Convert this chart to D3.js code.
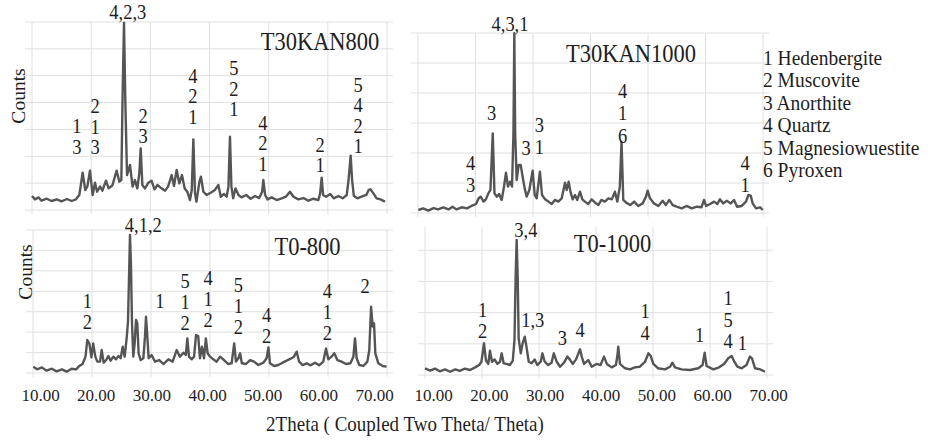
<!DOCTYPE html>
<html><head><meta charset="utf-8">
<script src="https://cdn.jsdelivr.net/npm/d3@7"></script>
<style>
html,body{margin:0;padding:0;background:#fff;}
svg{display:block;}
</style></head><body>
<svg id="chart" width="939" height="441"></svg>
<script>
// ---------- data ----------
const thetaTicks = [10, 20, 30, 40, 50, 60, 70];
const sampleNames = ["T30KAN800", "T30KAN1000", "T0-800", "T0-1000"];
const legendItems = ["1 Hedenbergite", "2 Muscovite", "3 Anorthite", "4 Quartz", "5 Magnesiowuestite", "6 Pyroxen"];
const yLabel = "Counts";
const xLabel = "2Theta ( Coupled Two Theta/ Theta)";

// [2theta, counts]
const t30kan800 = [[10.0,104],[10.5,79],[11.1,94],[11.6,69],[12.5,84],[13.3,67],[14.2,79],[15.0,64],[15.9,82],[16.7,67],[17.4,79],[18.0,112],[18.56,278],[19.0,149],[19.35,174],[19.8,293],[20.25,112],[20.65,203],[21.0,136],[21.5,174],[21.9,144],[22.5,218],[22.96,161],[23.6,184],[24.3,293],[24.76,211],[25.1,223],[25.3,819],[25.55,1395],[25.77,819],[26.06,260],[26.56,335],[27.0,174],[27.4,223],[27.8,161],[28.14,273],[28.37,459],[28.65,186],[29.1,161],[29.66,203],[30.2,218],[30.7,154],[31.2,186],[31.9,161],[32.5,144],[33.0,174],[33.6,260],[34.0,179],[34.45,298],[34.9,198],[35.35,260],[35.8,161],[36.25,136],[36.7,74],[37.0,149],[37.27,526],[37.55,124],[37.8,62],[38.3,211],[38.55,248],[38.96,136],[39.5,112],[40.2,129],[40.9,149],[41.5,186],[41.9,99],[42.45,119],[42.9,99],[43.2,174],[43.46,546],[43.7,174],[44.0,87],[44.4,161],[44.9,112],[45.4,94],[46.2,112],[46.96,84],[47.7,104],[48.4,89],[48.9,136],[49.1,223],[49.4,112],[49.8,79],[50.5,94],[51.35,74],[52.2,87],[52.9,99],[53.6,136],[54.2,99],[55.0,79],[55.9,89],[56.7,69],[57.55,84],[58.4,74],[58.7,124],[58.96,241],[59.2,112],[59.7,99],[60.4,119],[61.0,87],[61.8,104],[62.5,87],[63.2,112],[63.5,223],[63.86,405],[64.1,223],[64.4,104],[65.0,87],[65.7,99],[66.5,112],[66.9,149],[67.2,154],[67.7,124],[68.25,87],[68.9,79],[69.66,62]];

const t30kan1000 = [[10.06,20],[10.9,31],[11.8,16],[12.7,33],[13.5,24],[14.4,38],[15.3,24],[16.0,42],[16.7,24],[17.6,38],[18.5,31],[19.3,47],[20.1,60],[20.55,98],[20.9,109],[21.4,76],[21.8,91],[22.3,136],[22.6,153],[23.0,531],[23.3,131],[23.7,109],[24.1,127],[24.55,87],[24.96,176],[25.3,269],[25.65,176],[26.0,209],[26.35,176],[26.6,531],[26.75,1198],[26.9,531],[27.16,220],[27.5,320],[27.86,320],[28.2,242],[28.55,164],[28.9,109],[29.36,153],[29.94,282],[30.3,120],[30.64,98],[31.2,276],[31.57,120],[32.1,91],[32.67,76],[33.25,60],[33.8,87],[34.4,76],[34.99,98],[35.3,153],[35.57,202],[35.86,153],[36.2,209],[36.55,136],[36.9,91],[37.3,120],[37.7,87],[38.17,142],[38.58,91],[39.04,76],[39.6,60],[40.2,91],[40.8,69],[41.36,53],[41.9,87],[42.5,76],[43.1,98],[43.7,91],[44.25,142],[44.67,76],[45.1,176],[45.4,476],[45.7,87],[46.2,69],[46.9,53],[47.6,76],[48.3,47],[49.07,64],[49.65,109],[49.94,149],[50.35,98],[51.04,64],[51.8,47],[52.55,82],[53.1,53],[53.7,87],[54.3,53],[54.99,42],[55.86,31],[56.7,47],[57.6,31],[58.5,42],[59.3,38],[59.74,87],[60.1,47],[60.8,60],[61.5,76],[62.06,60],[62.5,91],[63.1,64],[63.7,82],[64.4,64],[64.96,87],[65.5,42],[66.3,47],[67.04,76],[67.45,120],[67.86,116],[68.2,64],[68.8,31],[69.5,38],[69.94,20]];

const t0800 = [[10.06,62],[10.7,36],[11.5,55],[12.3,23],[13.2,42],[14.0,16],[14.9,36],[15.7,13],[16.55,42],[17.3,36],[17.85,69],[18.4,88],[18.9,160],[19.2,323],[19.55,290],[19.9,153],[20.2,290],[20.56,160],[20.9,111],[21.36,111],[21.64,225],[21.98,101],[22.4,127],[22.77,166],[23.16,121],[23.6,160],[24.07,134],[24.5,166],[24.86,144],[25.2,258],[25.54,160],[25.9,356],[26.1,503],[26.33,1074],[26.44,1351],[26.6,1074],[26.78,486],[27.0,160],[27.23,290],[27.46,519],[27.68,486],[27.9,193],[28.25,127],[28.7,144],[28.98,356],[29.15,551],[29.38,356],[29.6,144],[30.1,176],[30.68,111],[31.4,127],[32.1,88],[32.94,134],[33.67,111],[34.35,225],[34.9,160],[35.5,199],[35.9,176],[36.16,339],[36.44,160],[36.9,134],[37.3,160],[37.63,372],[38.0,362],[38.3,144],[38.64,258],[38.98,144],[39.3,339],[39.6,193],[40.0,160],[40.56,134],[41.13,111],[41.7,160],[42.37,127],[43.1,88],[43.67,95],[44.1,290],[44.4,111],[44.8,144],[45.1,193],[45.4,95],[46.1,88],[46.8,127],[47.46,111],[48.2,78],[49.04,101],[49.6,144],[49.9,251],[50.17,95],[50.85,69],[51.58,78],[52.3,101],[53.0,121],[53.67,140],[54.24,160],[54.7,209],[55.1,111],[55.7,78],[56.38,95],[57.06,75],[57.8,101],[58.5,75],[59.2,111],[59.66,241],[60.06,134],[60.6,160],[61.07,193],[61.58,127],[62.3,111],[63.05,88],[63.8,95],[64.3,160],[64.58,339],[64.86,144],[65.3,78],[65.99,69],[66.67,111],[67.0,225],[67.3,649],[67.57,454],[67.8,486],[68.02,193],[68.53,95],[69.27,69],[69.94,62]];

const t01000 = [[10.0,43],[10.9,28],[11.75,41],[12.6,24],[13.5,36],[14.4,21],[15.3,36],[16.1,26],[17.0,41],[17.9,32],[18.8,49],[19.5,64],[19.9,85],[20.35,203],[20.7,92],[21.1,71],[21.4,156],[21.75,85],[22.2,100],[22.7,71],[23.16,85],[23.45,139],[23.8,75],[24.3,71],[24.9,64],[25.4,92],[25.7,224],[25.9,630],[26.08,865],[26.26,630],[26.43,235],[26.8,139],[27.13,203],[27.5,246],[27.8,182],[28.2,85],[28.7,75],[29.24,100],[29.7,64],[30.3,85],[30.6,139],[31.0,85],[31.6,64],[32.2,79],[32.6,139],[33.1,85],[33.7,53],[34.4,79],[34.97,118],[35.4,100],[35.9,71],[36.5,100],[37.2,165],[37.5,118],[37.9,71],[38.65,96],[39.24,53],[40.1,71],[40.8,64],[41.4,118],[41.9,71],[42.75,49],[43.5,64],[43.8,139],[43.9,182],[44.2,71],[45.1,43],[45.96,36],[46.8,49],[47.7,53],[48.6,85],[49.2,139],[49.6,122],[50.06,71],[50.9,43],[52.1,36],[53.0,53],[53.4,79],[53.86,49],[55.0,36],[56.5,32],[57.95,43],[58.7,64],[59.06,143],[59.4,58],[60.6,36],[61.6,49],[62.46,71],[63.2,107],[63.8,122],[64.27,85],[64.8,53],[65.56,43],[66.4,64],[67.0,118],[67.37,107],[67.9,43],[68.8,36],[69.65,21]];

// peak annotations: phase numbers (top to bottom), 2theta, counts level of first line
const peaks800K = [
  {lines:["4,2,3"], theta:26.2, level:1420},
  {lines:["1","3"], theta:17.6, level:573},
  {lines:["2","1","3"], theta:20.65, level:722},
  {lines:["2","3"], theta:28.8, level:648},
  {lines:["4","2","1"], theta:37.2, level:946},
  {lines:["5","2","1"], theta:44.1, level:1005},
  {lines:["4","2","1"], theta:49.0, level:596},
  {lines:["2","1"], theta:58.7, level:432},
  {lines:["5","4","2","1"], theta:65.1, level:879}
];
const peaks1000K = [
  {lines:["4,3,1"], theta:26.0, level:1213},
  {lines:["4","3"], theta:19.17, level:287},
  {lines:["3"], theta:22.8, level:620},
  {lines:["3","1"], theta:31.1, level:542},
  {lines:["3"], theta:28.8, level:387},
  {lines:["4","1","6"], theta:45.6, level:767},
  {lines:["4","1"], theta:66.9, level:287}
];
const peaks800 = [
  {lines:["4,1,2"], theta:28.7, level:1383},
  {lines:["1","2"], theta:19.2, level:633},
  {lines:["1"], theta:31.5, level:633},
  {lines:["5","1","2"], theta:35.8, level:829},
  {lines:["4","1","2"], theta:39.7, level:862},
  {lines:["5","1","2"], theta:44.8, level:796},
  {lines:["4","2"], theta:49.6, level:502},
  {lines:["4","1","2"], theta:59.9, level:731},
  {lines:["2"], theta:66.3, level:780}
];
const peaks1000 = [
  {lines:["3,4"], theta:27.7, level:886},
  {lines:["1","2"], theta:20.1, level:374},
  {lines:["1,3"], theta:28.9, level:310},
  {lines:["3"], theta:34.1, level:192},
  {lines:["4"], theta:37.2, level:246},
  {lines:["1","4"], theta:48.6, level:363},
  {lines:["1"], theta:58.2, level:213},
  {lines:["1","5","4"], theta:63.2, level:449},
  {lines:["1"], theta:65.7, level:160}
];

// ---------- layout ----------
const FONT = "'Liberation Serif'";
const svg = d3.select("#chart");
const STRETCH = 1.1;
function stext(g, x, y, lines, size, anchor, lh) {
  const arr = Array.isArray(lines) ? lines : [lines];
  const t = g.append("text")
    .attr("transform", `translate(${x},${y}) scale(1,${STRETCH})`)
    .attr("text-anchor", anchor || "middle")
    .attr("font-family", FONT)
    .attr("font-size", size)
    .attr("fill", "#1e1e1e");
  arr.forEach((s, i) => {
    t.append("tspan").attr("x", 0).attr("dy", i === 0 ? 0 : (lh || 0) / STRETCH).text(s);
  });
  return t;
}

const panels = [
  {data:t30kan800, peaks:peaks800K, name:sampleNames[0], xr:[32,387], yr:[210,22], ymax:1400, gridTop:1400, vTop:22, title:[320,50], lh:20.5},
  {data:t30kan1000, peaks:peaks1000K, name:sampleNames[1], xr:[418,763], yr:[213,33], ymax:1200, gridTop:1200, vTop:33, title:[631,61.5], lh:22.5},
  {data:t0800, peaks:peaks800, name:sampleNames[2], xr:[33,387], yr:[373,230], ymax:1400, gridTop:1400, vTop:230, title:[307.5,255], lh:21},
  {data:t01000, peaks:peaks1000, name:sampleNames[3], xr:[425,767], yr:[375,219], ymax:1000, gridTop:800, vTop:227, title:[612.5,251.5], lh:21.7}
];

panels.forEach(p => {
  const x = d3.scaleLinear().domain([10, 70]).range(p.xr);
  const y = d3.scaleLinear().domain([0, p.ymax]).range(p.yr);
  const g = svg.append("g");
  // grid
  const hTicks = d3.range(0, p.gridTop + 1, 200);
  g.selectAll(".h").data(hTicks).join("line")
    .attr("x1", p.xr[0] - 7).attr("x2", p.xr[1] + 6)
    .attr("y1", d => y(d)).attr("y2", d => y(d))
    .attr("stroke", "#e0e0e0").attr("stroke-width", 1);
  g.selectAll(".v").data(thetaTicks).join("line")
    .attr("x1", d => x(d)).attr("x2", d => x(d))
    .attr("y1", p.vTop).attr("y2", p.yr[0] + 4)
    .attr("stroke", "#e0e0e0").attr("stroke-width", 1);
  // trace
  const line = d3.line().x(d => x(d[0])).y(d => y(d[1]));
  g.append("path").datum(p.data).attr("d", line)
    .attr("fill", "none").attr("stroke", "#555555")
    .attr("stroke-width", 2.4).attr("stroke-linejoin", "round");
  // title
  stext(g, p.title[0], p.title[1], p.name, 22.5);
  // peak labels
  p.peaks.forEach(pk => {
    stext(g, x(pk.theta), y(pk.level), pk.lines, 18.5, "middle", p.lh);
  });
});

// axes tick labels (bottom row)
const tickScaleL = d3.scaleLinear().domain([10, 70]).range([40, 374]);
const tickScaleR = d3.scaleLinear().domain([10, 70]).range([433, 768]);
[tickScaleL, tickScaleR].forEach(s => {
  const ax = svg.append("g").attr("transform", "translate(0,387)")
    .call(d3.axisBottom(s).tickValues(thetaTicks).tickSize(0).tickPadding(2).tickFormat(d => d.toFixed(2)));
  ax.select(".domain").remove();
  ax.attr("font-family", FONT).attr("font-size", 17);
  ax.selectAll("text").attr("font-family", FONT).attr("font-size", 17).attr("fill", "#1e1e1e");
});

// axis titles
[[25, 96], [32, 272]].forEach(pos => {
  svg.append("text").attr("transform", `translate(${pos[0]},${pos[1]}) rotate(-90)`)
    .attr("text-anchor", "middle").attr("font-family", FONT).attr("font-size", 19.5)
    .attr("fill", "#1e1e1e").text(yLabel);
});
stext(svg, 405, 431, xLabel, 19);

// legend
const lg = svg.append("g");
legendItems.forEach((s, i) => stext(lg, 763, 65 + i * 22.4, s, 19.5, "start"));
</script>
</body></html>
